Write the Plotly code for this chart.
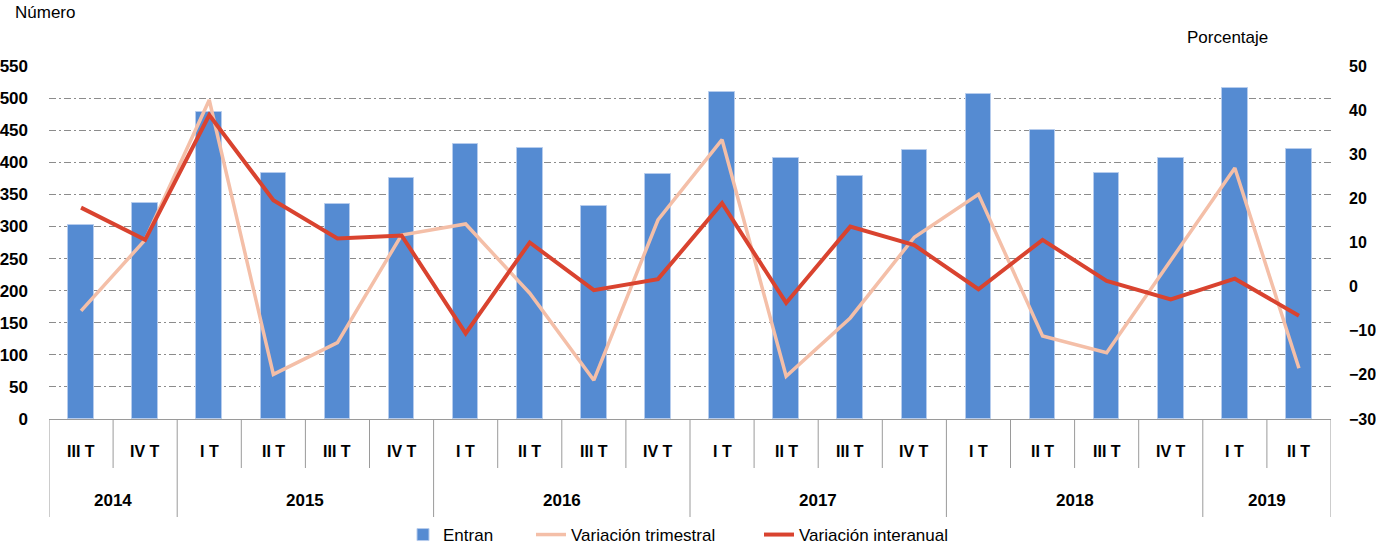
import plotly.graph_objects as go

# ---- data ----
quarters = ["III T", "IV T", "I T", "II T", "III T", "IV T", "I T", "II T", "III T", "IV T",
            "I T", "II T", "III T", "IV T", "I T", "II T", "III T", "IV T", "I T", "II T"]
year_of = ["2014", "2014", "2015", "2015", "2015", "2015", "2016", "2016", "2016", "2016",
           "2017", "2017", "2017", "2017", "2018", "2018", "2018", "2018", "2019", "2019"]
entran = [302, 336, 479, 384, 335, 376, 428, 422, 332, 382,
          510, 407, 378, 419, 507, 450, 383, 407, 515, 421]
var_trimestral = [-5.5, 10.6, 42.3, -19.9, -12.7, 11.7, 14.2, -1.5, -21.2, 15.1,
                  33.3, -20.3, -7.1, 11.2, 20.9, -11.2, -15.0, 6.0, 26.9, -18.5]
var_interanual = [17.9, 10.6, 38.9, 19.6, 10.9, 11.6, -10.6, 10.0, -0.8, 1.7,
                  18.9, -3.7, 13.6, 9.4, -0.6, 10.6, 1.3, -2.9, 1.8, -6.6]
left_ticks = list(range(0, 551, 50))
right_ticks = list(range(-30, 51, 10))

# ---- style ----
FONT = "Liberation Sans, Arial, sans-serif"
BLUE = "#558bd2"
PINK = "#f4bfa8"
RED = "#d9432f"
GRID = "#8c8c8c"
AXIS = "#9a9a9a"

idx = list(range(len(quarters)))

fig = go.Figure()
fig.add_trace(go.Bar(x=idx, y=entran, name="Entran", marker=dict(color=BLUE, line=dict(color="#b6cced", width=1)),
                     width=0.4, legend="legend", yaxis="y"))
fig.add_trace(go.Scatter(x=idx, y=var_trimestral, name="Variación trimestral", mode="lines",
                         line=dict(color=PINK, width=3.5), yaxis="y2", legend="legend2"))
fig.add_trace(go.Scatter(x=idx, y=var_interanual, name="Variación interanual", mode="lines",
                         line=dict(color=RED, width=4), yaxis="y2", legend="legend3"))

W, H = 1376, 552
L, R, T, B = 49, 45, 66, 133
pw, ph = W - L - R, H - T - B


def px_to_paper_y(py):
    return (H - B - py) / ph


def px_to_paper_x(px):
    return (px - L) / pw


shapes = []
annotations = []

y_q = px_to_paper_y(451)
y_qdiv = px_to_paper_y(468)
y_y = px_to_paper_y(500)
y_ydiv = px_to_paper_y(517)

for i, q in enumerate(quarters):
    annotations.append(dict(x=i, y=y_q, xref="x", yref="paper", text=q, showarrow=False,
                            font=dict(family=FONT, size=16, color="#000", weight="bold"),
                            xanchor="center", yanchor="middle"))

n = len(quarters)
for b in range(n + 1):
    pos = b - 0.5
    is_year = b == 0 or b == n or year_of[b] != year_of[b - 1]
    shapes.append(dict(type="line", xref="x", yref="paper", x0=pos, x1=pos, y0=0,
                       y1=y_ydiv if is_year else y_qdiv, line=dict(color=AXIS, width=1)))

groups = []
for i, yv in enumerate(year_of):
    if not groups or groups[-1][0] != yv:
        groups.append([yv, i, i])
    else:
        groups[-1][2] = i
for yv, a, b in groups:
    annotations.append(dict(x=(a + b) / 2, y=y_y, xref="x", yref="paper", text=yv, showarrow=False,
                            font=dict(family=FONT, size=17, color="#000", weight="bold"),
                            xanchor="center", yanchor="middle"))

annotations.append(dict(x=px_to_paper_x(13), y=px_to_paper_y(13), xref="paper", yref="paper",
                        text="Número", showarrow=False, xanchor="left", yanchor="middle",
                        font=dict(family=FONT, size=17, color="#000")))
annotations.append(dict(x=px_to_paper_x(1185), y=px_to_paper_y(37), xref="paper", yref="paper",
                        text="Porcentaje", showarrow=False, xanchor="left", yanchor="middle",
                        font=dict(family=FONT, size=17, color="#000")))

leg_y = px_to_paper_y(535)
leg_font = dict(family=FONT, size=17, color="#000")
legend_common = dict(orientation="h", yanchor="middle", y=leg_y, xanchor="left",
                     font=leg_font, bgcolor="rgba(0,0,0,0)", borderwidth=0)

fig.update_layout(
    width=W, height=H,
    margin=dict(l=L, r=R, t=T, b=B, autoexpand=False),
    plot_bgcolor="white", paper_bgcolor="white",
    bargap=0,
    showlegend=True,
    legend=dict(x=px_to_paper_x(403), **legend_common),
    legend2=dict(x=px_to_paper_x(531), **legend_common),
    legend3=dict(x=px_to_paper_x(759), **legend_common),
    xaxis=dict(range=[-0.5, n - 0.5], showticklabels=False, ticks="", showgrid=False,
               showline=True, linecolor=AXIS, linewidth=1, zeroline=False, fixedrange=True,
               automargin=False),
    yaxis=dict(range=[0, 550], tickvals=left_ticks, showgrid=True, gridcolor=GRID, gridwidth=1,
               griddash="7px,3px,2px,3px", zeroline=False, showline=False, ticks="",
               ticklabelstandoff=20, automargin=False,
               tickfont=dict(family=FONT, size=17, color="#000", weight="bold")),
    yaxis2=dict(range=[-30, 50], tickvals=right_ticks, overlaying="y", side="right",
                showgrid=False, zeroline=False, showline=False, ticks="", ticklabelstandoff=17,
                automargin=False,
                tickfont=dict(family=FONT, size=16, color="#000", weight="bold")),
    shapes=shapes,
    annotations=annotations,
)

# remove the browser's default 8px page margin so the figure fills the window exactly
fig.write_html("out.html", config={"displayModeBar": False},
               post_script="document.body.style.margin='0';")
